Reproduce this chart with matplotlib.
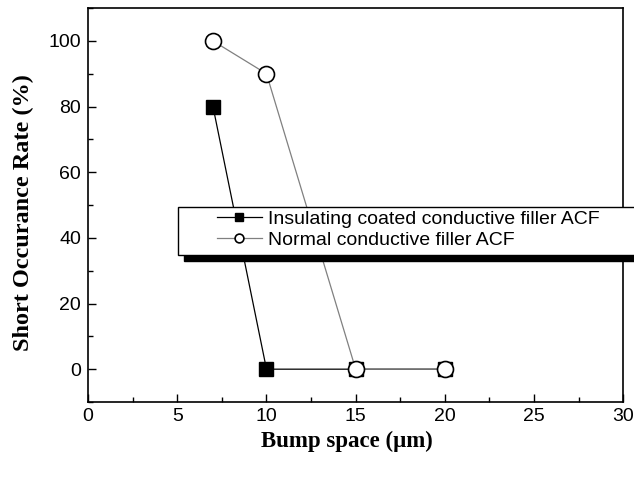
import matplotlib
matplotlib.use("Agg")
import matplotlib.pyplot as plt
from matplotlib.patches import Rectangle
from matplotlib.transforms import Bbox

# data
space = [7, 10, 15, 20]
insulating = [80, 0, 0, 0]
normal = [100, 90, 0, 0]

fig = plt.figure(figsize=(6.34, 4.78), dpi=100)
ax = fig.add_axes([0.139, 0.159, 0.844, 0.824])

ax.plot(space, insulating, color='black', lw=0.9, marker='s', ms=10.5,
        mfc='black', mec='black', label='Insulating coated conductive filler ACF',
        zorder=3)
ax.plot(space, normal, color='#808080', lw=0.9, marker='o', ms=11.5,
        mfc='white', mec='black', mew=1.2, label='Normal conductive filler ACF',
        zorder=4)

ax.set_xlim(0, 30)
ax.set_ylim(-10, 110)
ax.set_xticks(range(0, 31, 5))
ax.set_xticks([2.5 + 5 * i for i in range(6)], minor=True)
ax.set_yticks(range(0, 101, 20))
ax.set_yticks(range(-10, 111, 20), minor=True)
ax.tick_params(direction='in', which='major', length=6, width=1, top=False, right=False)
ax.tick_params(direction='in', which='minor', length=3.3, width=1, top=False, right=False)
for lab in ax.get_xticklabels() + ax.get_yticklabels():
    lab.set_family('Liberation Sans')
    lab.set_fontsize(14)
ax.tick_params(axis='x', pad=4)
ax.tick_params(axis='y', pad=5)
for s in ax.spines.values():
    s.set_linewidth(1.2)

ax.set_xlabel('Bump space (\u03bcm)', family='Liberation Serif', weight='bold',
              fontsize=16.5, va='center')
ax.set_ylabel('Short Occurance Rate (%)', family='Liberation Serif', weight='bold',
              fontsize=17.5, va='center')
ax.xaxis.set_label_coords(0.484, -0.1)
ax.yaxis.set_label_coords(-0.12, 0.48)

leg = ax.legend(loc='upper left', bbox_to_anchor=(0.241, 0.487), borderaxespad=0,
                frameon=False, markerscale=0.55, handlelength=2.3, handletextpad=0.3,
                borderpad=0, labelspacing=0.2,
                prop={'family': 'Liberation Sans', 'size': 14})
leg.set_zorder(7)

# Origin-style legend box: wide horizontal margins plus a solid black drop shadow
fig.canvas.draw()
bb = leg.get_window_extent()
box = Bbox.from_extents(bb.x0 - 39, bb.y0 - 6, bb.x1 + 36, bb.y1 + 3)
inv = fig.transFigure.inverted()
for dx, dy, fc, z in [(6, -6, 'black', 5), (0, 0, 'white', 6)]:
    b = Bbox.from_bounds(box.x0 + dx, box.y0 + dy, box.width, box.height).transformed(inv)
    fig.add_artist(Rectangle((b.x0, b.y0), b.width, b.height, transform=fig.transFigure,
                             facecolor=fc, edgecolor='black', lw=1.0, zorder=z))
leg.remove()
fig.add_artist(leg)

fig.savefig('out.png', dpi=100)
